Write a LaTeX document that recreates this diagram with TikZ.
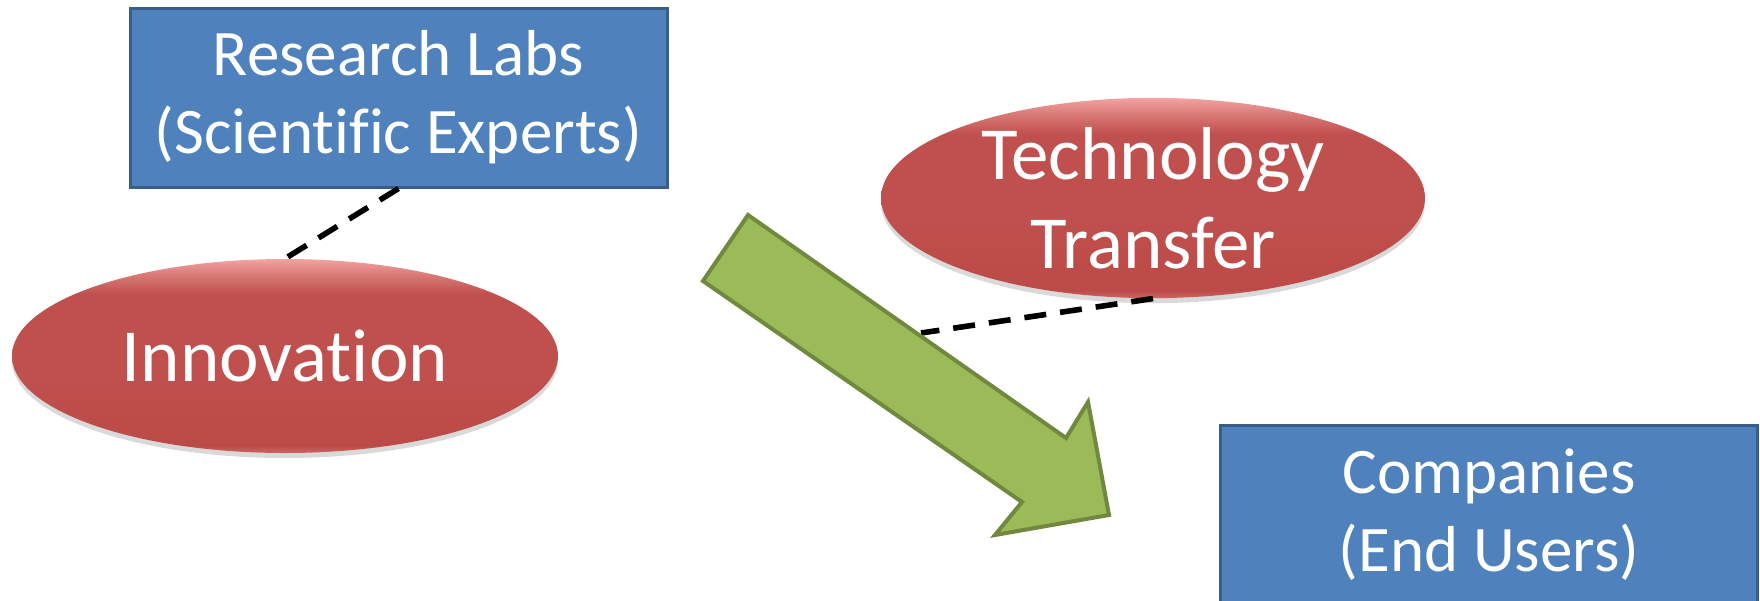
\documentclass[tikz,border=0pt]{standalone}
\usepackage{fontspec}
\setmainfont[Ligatures={NoCommon}]{Carlito}
\usetikzlibrary{shapes.geometric,shadows}
\definecolor{boxfill}{HTML}{4F81BD}
\definecolor{boxline}{HTML}{385D8A}
\definecolor{arrfill}{HTML}{9BBB59}
\definecolor{arrline}{HTML}{71893F}
\definecolor{redM}{HTML}{C0504D}
\definecolor{redB}{HTML}{BC4A47}
\definecolor{redE}{HTML}{CA6663}
\definecolor{redT}{HTML}{D97A77}
\definecolor{redP}{HTML}{F3A3A1}
\pgfdeclareverticalshading{redbevel}{100bp}{color(0bp)=(redE); color(25bp)=(redE); color(27bp)=(redB); color(45bp)=(redM); color(66bp)=(redM); color(71bp)=(redT); color(75bp)=(redP); color(100bp)=(redP)}
\tikzset{
  bluebox/.style={rectangle, draw=boxline, line width=1.5pt, fill=boxfill, text=white,
    align=center, inner sep=0pt, minimum width=268.5pt, minimum height=89.5pt,
    font=\fontsize{32.5}{39}\selectfont},
  redoval/.style={ellipse, shading=redbevel, text=white, align=center, inner sep=0pt,
    font=\fontsize{37.5}{44.5}\selectfont,
    drop shadow={shadow xshift=0pt, shadow yshift=-2.5pt, opacity=0.15, fill=black}},
  dashline/.style={line width=2.8pt, dash pattern=on 11pt off 7pt, black},
  blockarrow/.style={fill=arrfill, draw=arrline, line width=2pt, line join=miter}
}
\begin{document}
\begin{tikzpicture}[x=0.5pt,y=-0.5pt]
\useasboundingbox (0,0) rectangle (1760,600);
\node[bluebox] (rl) at (398.5,97.5) {Research Labs\\(Scientific Experts)};
\node[redoval, minimum width=273pt, minimum height=97pt] (inn) at (285,356) {Innovation};
\node[redoval, minimum width=272pt, minimum height=96.5pt] (tt) at (1153,198) {Technology\\Transfer};
\node[bluebox] (co) at (1489,514.5) {Companies\\(End Users)};
\coordinate (ttend) at (921,333);
\draw[dashline] (rl.south) -- (inn.north);
\draw[dashline] (tt.south) -- (ttend);
\draw[blockarrow] (748,215) -- (1066,438) -- (1088,402) -- (1109,515) -- (995,535) -- (1022,502) -- (703,281) -- cycle;
\end{tikzpicture}
\end{document}
